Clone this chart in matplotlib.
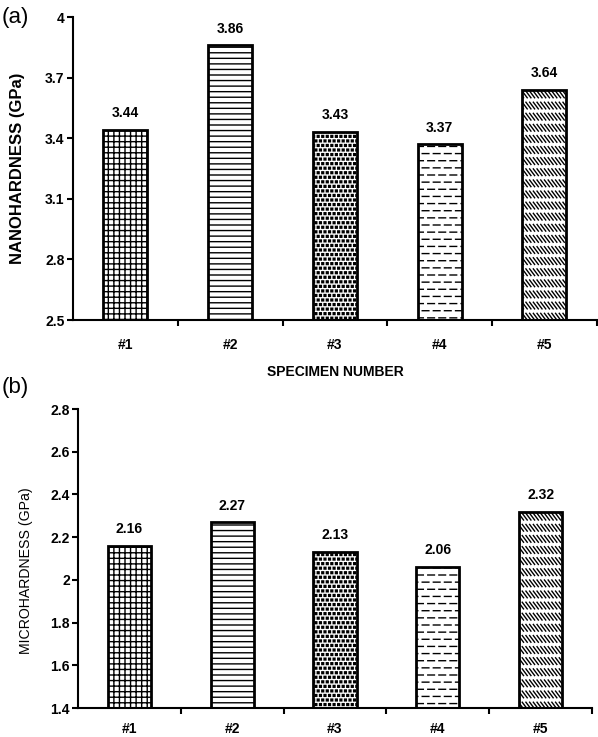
import numpy as np
import matplotlib
matplotlib.use('Agg')
import matplotlib.pyplot as plt
from matplotlib import hatch as mhatch
from matplotlib.path import Path

# данные
specimens = ['#1', '#2', '#3', '#4', '#5']
nano = [3.44, 3.86, 3.43, 3.37, 3.64]
micro = [2.16, 2.27, 2.13, 2.06, 2.32]
nano_ticks = [2.5, 2.8, 3.1, 3.4, 3.7, 4.0]
nano_ticklabels = ['2.5', '2.8', '3.1', '3.4', '3.7', '4']
micro_ticks = [1.4, 1.6, 1.8, 2.0, 2.2, 2.4, 2.6, 2.8]
micro_ticklabels = ['1.4', '1.6', '1.8', '2', '2.2', '2.4', '2.6', '2.8']
hatches = ['+++', '---', 'o', 'O', '*']


class DashRows(mhatch.HatchPatternBase):
    """Ряды коротких горизонтальных штрихов (символ 'O')"""
    def __init__(self, hatch, density):
        self.num_rows = 14 if 'O' in hatch else 0
        self.per_row = 9
        self.num_vertices = self.num_rows * self.per_row * 2

    def set_vertices_and_codes(self, vertices, codes):
        k = 0
        for r in range(self.num_rows):
            y = (r + 0.5) / self.num_rows
            shift = 0.5 / self.per_row if r % 2 else 0.0
            for c in range(self.per_row):
                x0 = c / self.per_row + shift
                x1 = x0 + 0.6 / self.per_row
                vertices[k] = (x0, y)
                vertices[k + 1] = (x1, y)
                codes[k] = Path.MOVETO
                codes[k + 1] = Path.LINETO
                k += 2


class SlashRows(mhatch.HatchPatternBase):
    """Ряды коротких наклонных штрихов (символ '*')"""
    def __init__(self, hatch, density):
        self.num_rows = 9 if '*' in hatch else 0
        self.per_row = 27
        self.num_vertices = self.num_rows * self.per_row * 2

    def set_vertices_and_codes(self, vertices, codes):
        k = 0
        h = 0.6 / self.num_rows
        for r in range(self.num_rows):
            y = (r + 0.2) / self.num_rows
            for c in range(self.per_row):
                x0 = c / self.per_row
                vertices[k] = (x0, y + h)
                vertices[k + 1] = (x0 + h * 0.75, y)
                codes[k] = Path.MOVETO
                codes[k + 1] = Path.LINETO
                k += 2


class Speckle(mhatch.Shapes):
    """Мелкие залитые квадраты в шахматном порядке (символ 'o')"""
    size = 0.2
    filled = True

    def __init__(self, hatch, density):
        self.num_rows = 22 if 'o' in hatch else 0
        path = Path.unit_rectangle()
        self.shape_vertices = (path.vertices - 0.5) * 2
        self.shape_codes = path.codes
        super().__init__(hatch, density)


mhatch._hatch_types[:] = [t for t in mhatch._hatch_types
                          if t not in (mhatch.LargeCircles, mhatch.Stars,
                                       mhatch.SmallCircles)]
mhatch._hatch_types += [DashRows, SlashRows, Speckle]

plt.rcParams['font.family'] = ['Liberation Sans', 'DejaVu Sans']
plt.rcParams['hatch.linewidth'] = 1.0
plt.rcParams['hatch.color'] = 'black'

fig = plt.figure(figsize=(5.98, 7.37), dpi=100)
ax1 = fig.add_axes([0.1221, 0.5658, 0.876, 0.4111])
ax2 = fig.add_axes([0.1304, 0.0393, 0.8595, 0.4057])


def draw_panel(ax, values, ticks, ticklabels, ylim, fmt):
    x = np.arange(len(values))
    bars = ax.bar(x, values, width=0.42, bottom=0, color='white',
                  edgecolor='black', linewidth=2.0, zorder=2)
    for b, h in zip(bars, hatches):
        b.set_hatch(h)
    for xi, v in zip(x, values):
        ax.annotate(fmt.format(v), (xi, v), xytext=(0, 7),
                    textcoords='offset points', ha='center', va='bottom',
                    fontsize=10, fontweight='bold')
    ax.set_xlim(-0.5, len(values) - 0.5)
    ax.set_ylim(*ylim)
    ax.set_yticks(ticks)
    ax.set_yticklabels(ticklabels, fontsize=10, fontweight='bold')
    ax.set_xticks(x)
    ax.set_xticklabels(specimens, fontsize=10, fontweight='bold')
    ax.set_xticks(np.arange(len(values)) + 0.5, minor=True)
    ax.tick_params(axis='x', which='major', length=0, pad=13)
    ax.tick_params(axis='x', which='minor', length=4, width=1.5,
                   direction='out')
    ax.tick_params(axis='y', length=4, width=1.5, direction='out', pad=2)
    for s in ['top', 'right']:
        ax.spines[s].set_visible(False)
    for s in ['left', 'bottom']:
        ax.spines[s].set_linewidth(1.5)


draw_panel(ax1, nano, nano_ticks, nano_ticklabels, (2.5, 4.0), '{:.2f}')
draw_panel(ax2, micro, micro_ticks, micro_ticklabels, (1.4, 2.8), '{:.2f}')
ax2.tick_params(axis='x', which='major', pad=10)

ax1.set_ylabel('NANOHARDNESS (GPa)', fontsize=12, fontweight='bold')
ax1.yaxis.set_label_coords(-0.092, 0.5)
ax2.set_ylabel('MICROHARDNESS (GPa)', fontsize=10.2)
ax2.yaxis.set_label_coords(-0.088, 0.458)

fig.text(335 / 598, 1 - 372 / 737, 'SPECIMEN NUMBER', ha='center',
         va='center', fontsize=10, fontweight='bold')
fig.text(0.003, 1 - 18 / 737, '(a)', fontsize=16, ha='left', va='center')
fig.text(0.003, 1 - 387 / 737, '(b)', fontsize=16, ha='left', va='center')

fig.savefig('out.png', dpi=100)
